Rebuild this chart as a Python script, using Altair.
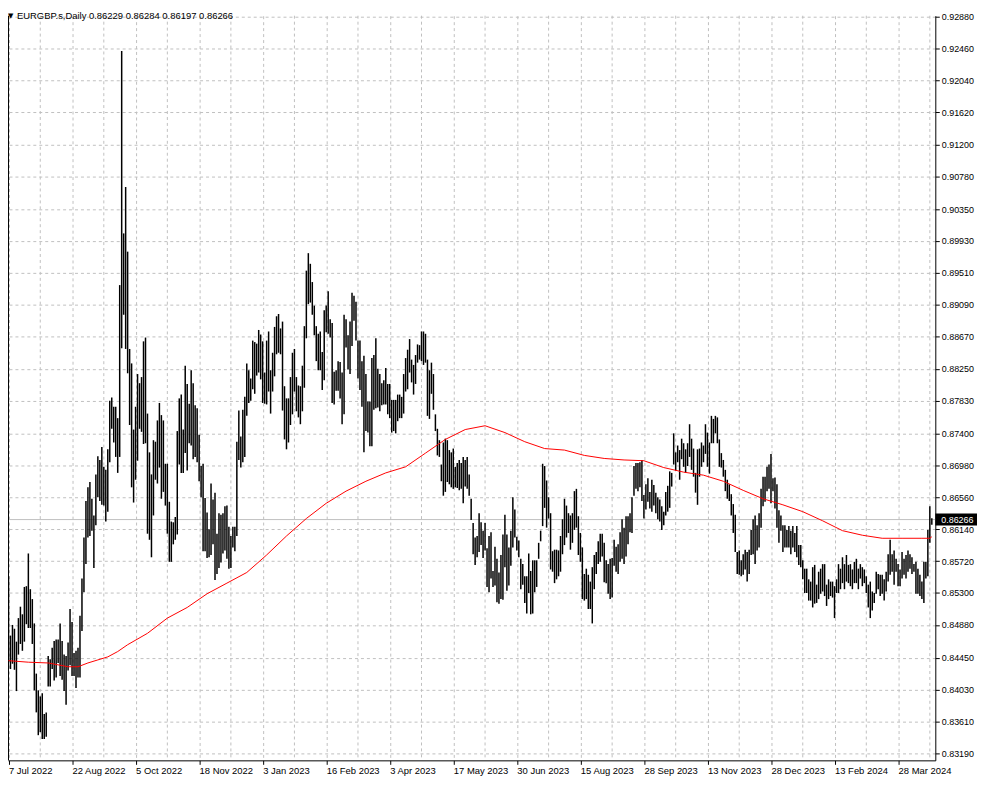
import altair as alt
import pandas as pd

# ---------------- data ----------------
HIGH = [
0.8552, 0.8474, 0.8488, 0.8483, 0.8466, 0.8497, 0.8512, 0.8502, 0.8538, 0.8539,
0.8582, 0.8535, 0.8522, 0.8490, 0.8424, 0.8402, 0.8394, 0.8398, 0.8371, 0.8373,
0.8447, 0.8443, 0.8458, 0.8467, 0.8469, 0.8469, 0.8490, 0.8467, 0.8449, 0.8447,
0.8465, 0.8509, 0.8492, 0.8451, 0.8454, 0.8458, 0.8500, 0.8549, 0.8603, 0.8651,
0.8669, 0.8676, 0.8654, 0.8632, 0.8686, 0.8710, 0.8705, 0.8722, 0.8696, 0.8692,
0.8719, 0.8783, 0.8787, 0.8775, 0.8775, 0.8760, 0.8935, 0.9243, 0.9003, 0.9064,
0.8979, 0.8851, 0.8832, 0.8745, 0.8775, 0.8818, 0.8806, 0.8814, 0.8861, 0.8866,
0.8766, 0.8715, 0.8686, 0.8731, 0.8729, 0.8757, 0.8780, 0.8764, 0.8757, 0.8700,
0.8700, 0.8650, 0.8624, 0.8623, 0.8630, 0.8743, 0.8786, 0.8791, 0.8745, 0.8829,
0.8805, 0.8779, 0.8823, 0.8806, 0.8777, 0.8773, 0.8738, 0.8697, 0.8700, 0.8655,
0.8636, 0.8614, 0.8674, 0.8653, 0.8662, 0.8608, 0.8635, 0.8633, 0.8635, 0.8644,
0.8645, 0.8617, 0.8605, 0.8617, 0.8617, 0.8729, 0.8770, 0.8736, 0.8771, 0.8788,
0.8832, 0.8823, 0.8812, 0.8862, 0.8860, 0.8858, 0.8876, 0.8870, 0.8861, 0.8820,
0.8862, 0.8874, 0.8823, 0.8846, 0.8880, 0.8894, 0.8897, 0.8878, 0.8887, 0.8802,
0.8786, 0.8786, 0.8814, 0.8846, 0.8851, 0.8814, 0.8803, 0.8802, 0.8829, 0.8881,
0.8954, 0.8977, 0.8963, 0.8939, 0.8908, 0.8881, 0.8871, 0.8874, 0.8847, 0.8902,
0.8908, 0.8927, 0.8890, 0.8885, 0.8821, 0.8823, 0.8835, 0.8834, 0.8820, 0.8896,
0.8890, 0.8869, 0.8887, 0.8925, 0.8921, 0.8913, 0.8862, 0.8862, 0.8835, 0.8842,
0.8818, 0.8782, 0.8782, 0.8839, 0.8843, 0.8865, 0.8825, 0.8818, 0.8806, 0.8810,
0.8826, 0.8805, 0.8805, 0.8784, 0.8784, 0.8784, 0.8791, 0.8791, 0.8788, 0.8818,
0.8839, 0.8850, 0.8864, 0.8837, 0.8830, 0.8843, 0.8857, 0.8856, 0.8874, 0.8874,
0.8871, 0.8837, 0.8823, 0.8833, 0.8818, 0.8765, 0.8746, 0.8731, 0.8699, 0.8728,
0.8733, 0.8731, 0.8718, 0.8715, 0.8720, 0.8696, 0.8701, 0.8705, 0.8701, 0.8709,
0.8705, 0.8709, 0.8686, 0.8654, 0.8622, 0.8603, 0.8605, 0.8635, 0.8623, 0.8612,
0.8622, 0.8589, 0.8605, 0.8610, 0.8559, 0.8591, 0.8575, 0.8557, 0.8580, 0.8607,
0.8633, 0.8607, 0.8590, 0.8612, 0.8656, 0.8640, 0.8604, 0.8599, 0.8575, 0.8568,
0.8552, 0.8552, 0.8582, 0.8559, 0.8573, 0.8573, 0.8573, 0.8596, 0.8612, 0.8700,
0.8697, 0.8678, 0.8656, 0.8635, 0.8585, 0.8587, 0.8587, 0.8586, 0.8605, 0.8627,
0.8654, 0.8645, 0.8635, 0.8632, 0.8635, 0.8664, 0.8667, 0.8631, 0.8609, 0.8590,
0.8555, 0.8562, 0.8554, 0.8545, 0.8564, 0.8580, 0.8584, 0.8598, 0.8608, 0.8608,
0.8596, 0.8573, 0.8568, 0.8575, 0.8576, 0.8600, 0.8591, 0.8594, 0.8610, 0.8627,
0.8616, 0.8631, 0.8631, 0.8635, 0.8656, 0.8697, 0.8701, 0.8701, 0.8702, 0.8705,
0.8659, 0.8673, 0.8681, 0.8663, 0.8679, 0.8672, 0.8662, 0.8656, 0.8653, 0.8644,
0.8637, 0.8663, 0.8671, 0.8690, 0.8688, 0.8740, 0.8715, 0.8724, 0.8718, 0.8733,
0.8727, 0.8719, 0.8727, 0.8752, 0.8733, 0.8720, 0.8688, 0.8719, 0.8720, 0.8728,
0.8724, 0.8752, 0.8741, 0.8728, 0.8763, 0.8759, 0.8763, 0.8761, 0.8732, 0.8714,
0.8705, 0.8692, 0.8679, 0.8673, 0.8660, 0.8647, 0.8633, 0.8584, 0.8586, 0.8573,
0.8581, 0.8587, 0.8584, 0.8587, 0.8613, 0.8627, 0.8632, 0.8619, 0.8635, 0.8667,
0.8683, 0.8683, 0.8696, 0.8699, 0.8713, 0.8681, 0.8682, 0.8673, 0.8639, 0.8632,
0.8619, 0.8619, 0.8613, 0.8618, 0.8612, 0.8618, 0.8609, 0.8618, 0.8593, 0.8593,
0.8573, 0.8562, 0.8562, 0.8548, 0.8545, 0.8564, 0.8567, 0.8541, 0.8558, 0.8562,
0.8568, 0.8568, 0.8541, 0.8548, 0.8545, 0.8545, 0.8539, 0.8548, 0.8568, 0.8562,
0.8577, 0.8568, 0.8580, 0.8567, 0.8568, 0.8561, 0.8571, 0.8575, 0.8562, 0.8568,
0.8564, 0.8561, 0.8552, 0.8541, 0.8545, 0.8532, 0.8530, 0.8558, 0.8555, 0.8554,
0.8554, 0.8548, 0.8558, 0.8581, 0.8600, 0.8581, 0.8586, 0.8575, 0.8568, 0.8561,
0.8584, 0.8575, 0.8580, 0.8586, 0.8581, 0.8577, 0.8568, 0.8571, 0.8562, 0.8554,
0.8545, 0.8571, 0.8571, 0.8613, 0.8644, 0.86284,
]

LOW = [
0.8440, 0.8430, 0.8437, 0.8429, 0.8401, 0.8449, 0.8463, 0.8454, 0.8466, 0.8489,
0.8484, 0.8484, 0.8463, 0.8402, 0.8373, 0.8343, 0.8347, 0.8338, 0.8338, 0.8341,
0.8407, 0.8407, 0.8430, 0.8415, 0.8419, 0.8438, 0.8421, 0.8416, 0.8401, 0.8383,
0.8428, 0.8435, 0.8421, 0.8421, 0.8405, 0.8419, 0.8419, 0.8480, 0.8531, 0.8568,
0.8603, 0.8605, 0.8612, 0.8563, 0.8619, 0.8656, 0.8651, 0.8646, 0.8645, 0.8624,
0.8637, 0.8702, 0.8746, 0.8728, 0.8709, 0.8688, 0.8709, 0.8852, 0.8896, 0.8851,
0.8819, 0.8751, 0.8669, 0.8649, 0.8679, 0.8704, 0.8746, 0.8742, 0.8726, 0.8727,
0.8608, 0.8600, 0.8577, 0.8632, 0.8679, 0.8674, 0.8695, 0.8654, 0.8663, 0.8645,
0.8608, 0.8571, 0.8571, 0.8594, 0.8600, 0.8607, 0.8699, 0.8688, 0.8688, 0.8714,
0.8691, 0.8727, 0.8724, 0.8706, 0.8709, 0.8702, 0.8677, 0.8656, 0.8585, 0.8585,
0.8576, 0.8577, 0.8580, 0.8594, 0.8547, 0.8555, 0.8563, 0.8570, 0.8582, 0.8586,
0.8575, 0.8562, 0.8563, 0.8590, 0.8585, 0.8605, 0.8705, 0.8695, 0.8702, 0.8709,
0.8763, 0.8780, 0.8783, 0.8798, 0.8792, 0.8816, 0.8820, 0.8811, 0.8780, 0.8779,
0.8778, 0.8795, 0.8766, 0.8795, 0.8815, 0.8844, 0.8846, 0.8844, 0.8770, 0.8732,
0.8719, 0.8728, 0.8751, 0.8765, 0.8795, 0.8769, 0.8761, 0.8752, 0.8769, 0.8800,
0.8865, 0.8910, 0.8912, 0.8896, 0.8869, 0.8835, 0.8823, 0.8823, 0.8797, 0.8810,
0.8873, 0.8871, 0.8866, 0.8780, 0.8778, 0.8796, 0.8796, 0.8786, 0.8752, 0.8765,
0.8853, 0.8824, 0.8818, 0.8855, 0.8888, 0.8862, 0.8812, 0.8797, 0.8775, 0.8715,
0.8743, 0.8741, 0.8723, 0.8723, 0.8771, 0.8773, 0.8774, 0.8769, 0.8777, 0.8778,
0.8778, 0.8765, 0.8760, 0.8741, 0.8743, 0.8740, 0.8756, 0.8760, 0.8760, 0.8766,
0.8795, 0.8798, 0.8820, 0.8807, 0.8791, 0.8805, 0.8833, 0.8837, 0.8835, 0.8830,
0.8833, 0.8763, 0.8759, 0.8792, 0.8771, 0.8743, 0.8711, 0.8709, 0.8677, 0.8658,
0.8663, 0.8676, 0.8673, 0.8669, 0.8667, 0.8669, 0.8668, 0.8665, 0.8667, 0.8648,
0.8670, 0.8667, 0.8658, 0.8626, 0.8581, 0.8567, 0.8577, 0.8584, 0.8593, 0.8576,
0.8586, 0.8538, 0.8531, 0.8549, 0.8538, 0.8540, 0.8518, 0.8516, 0.8522, 0.8521,
0.8564, 0.8533, 0.8540, 0.8566, 0.8590, 0.8603, 0.8586, 0.8577, 0.8535, 0.8541,
0.8517, 0.8503, 0.8530, 0.8502, 0.8503, 0.8531, 0.8538, 0.8575, 0.8598, 0.8618,
0.8642, 0.8616, 0.8628, 0.8561, 0.8558, 0.8543, 0.8548, 0.8552, 0.8558, 0.8581,
0.8593, 0.8603, 0.8609, 0.8587, 0.8596, 0.8613, 0.8616, 0.8580, 0.8571, 0.8522,
0.8520, 0.8522, 0.8509, 0.8509, 0.8490, 0.8535, 0.8555, 0.8568, 0.8571, 0.8578,
0.8544, 0.8543, 0.8529, 0.8522, 0.8524, 0.8566, 0.8558, 0.8555, 0.8571, 0.8575,
0.8568, 0.8578, 0.8594, 0.8610, 0.8609, 0.8658, 0.8667, 0.8664, 0.8669, 0.8651,
0.8628, 0.8640, 0.8650, 0.8641, 0.8637, 0.8645, 0.8635, 0.8627, 0.8624, 0.8613,
0.8619, 0.8632, 0.8637, 0.8642, 0.8670, 0.8699, 0.8691, 0.8702, 0.8679, 0.8706,
0.8696, 0.8688, 0.8697, 0.8709, 0.8692, 0.8683, 0.8662, 0.8646, 0.8683, 0.8696,
0.8702, 0.8713, 0.8696, 0.8687, 0.8727, 0.8727, 0.8740, 0.8727, 0.8696, 0.8695,
0.8683, 0.8664, 0.8654, 0.8651, 0.8632, 0.8609, 0.8584, 0.8555, 0.8554, 0.8552,
0.8554, 0.8561, 0.8545, 0.8555, 0.8580, 0.8581, 0.8568, 0.8586, 0.8590, 0.8616,
0.8644, 0.8650, 0.8664, 0.8667, 0.8648, 0.8664, 0.8641, 0.8616, 0.8596, 0.8612,
0.8584, 0.8590, 0.8590, 0.8590, 0.8581, 0.8590, 0.8584, 0.8577, 0.8567, 0.8564,
0.8548, 0.8530, 0.8530, 0.8520, 0.8520, 0.8511, 0.8516, 0.8517, 0.8522, 0.8529,
0.8532, 0.8526, 0.8513, 0.8522, 0.8526, 0.8524, 0.8497, 0.8530, 0.8530, 0.8535,
0.8543, 0.8535, 0.8545, 0.8543, 0.8539, 0.8535, 0.8543, 0.8543, 0.8535, 0.8549,
0.8539, 0.8543, 0.8530, 0.8511, 0.8497, 0.8507, 0.8517, 0.8529, 0.8535, 0.8526,
0.8529, 0.8520, 0.8532, 0.8545, 0.8554, 0.8558, 0.8541, 0.8558, 0.8539, 0.8539,
0.8549, 0.8554, 0.8549, 0.8558, 0.8562, 0.8555, 0.8558, 0.8529, 0.8529, 0.8526,
0.8522, 0.8517, 0.8549, 0.8552, 0.8596, 0.86197,
]

MA_IDX = [0, 10, 20, 30, 35, 40, 45, 50, 55, 60, 70, 80, 90, 100, 110, 120, 130,
          140, 150, 160, 170, 180, 190, 200, 210, 220, 230, 240, 250, 260, 270,
          280, 290, 300, 310, 320, 330, 340, 350, 360, 370, 380, 390, 400, 410,
          420, 430, 440, 450, 460, 464, 465]
MA_VAL = [0.8441, 0.8439, 0.8438, 0.8433, 0.8433, 0.8438, 0.8442, 0.8446, 0.8453,
          0.8462, 0.8477, 0.8497, 0.8511, 0.8529, 0.8543, 0.8557, 0.8580, 0.8605,
          0.8628, 0.8648, 0.8664, 0.8677, 0.8688, 0.8696, 0.8714, 0.8732, 0.8745,
          0.8750, 0.8741, 0.8729, 0.8720, 0.8718, 0.8711, 0.8707, 0.8705, 0.8704,
          0.8695, 0.8689, 0.8685, 0.8677, 0.8665, 0.8654, 0.8646, 0.8637, 0.8625,
          0.8612, 0.8606, 0.8602, 0.8602, 0.8602, 0.8602, 0.8604]

Y_TICKS = [0.92880, 0.92460, 0.92040, 0.91620, 0.91200, 0.90780, 0.90350, 0.89930,
           0.89510, 0.89090, 0.88670, 0.88250, 0.87830, 0.87400, 0.86980, 0.86560,
           0.86140, 0.85720, 0.85300, 0.84880, 0.84450, 0.84030, 0.83610, 0.83190]
DATE_LABELS = ["7 Jul 2022", "22 Aug 2022", "5 Oct 2022", "18 Nov 2022", "3 Jan 2023",
               "16 Feb 2023", "3 Apr 2023", "17 May 2023", "30 Jun 2023", "15 Aug 2023",
               "28 Sep 2023", "13 Nov 2023", "28 Dec 2023", "13 Feb 2024", "28 Mar 2024"]
LABEL_EVERY = 32
GRID_EVERY = 16
LAST_PRICE = 0.86266
HEADER = "EURGBP.s,Daily  0.86229 0.86284 0.86197 0.86266"

# ---------------- layout ----------------
W, H = 934, 750
FONT = "Liberation Sans"
GRID = "#c0c0c0"

n = len(HIGH)
bars = pd.DataFrame({"idx": list(range(n)), "high": HIGH, "low": LOW})
ma = pd.DataFrame({"idx": MA_IDX, "ma": MA_VAL})
last = pd.DataFrame({"p": [LAST_PRICE], "label": [f"{LAST_PRICE:.5f}"]})
vgrid = pd.DataFrame({"idx": [i for i in range(0, n, GRID_EVERY) if i % LABEL_EVERY]})

xs = alt.Scale(domain=[-0.25, 466.75], nice=False, zero=False)
ys = alt.Scale(domain=[0.83099, 0.92893], nice=False, zero=False)

labels_js = "[" + ",".join("'" + d + "'" for d in DATE_LABELS) + "]"
x_axis = alt.Axis(
    values=list(range(0, n, LABEL_EVERY)),
    labelExpr=f"{labels_js}[round(datum.value / {LABEL_EVERY})]",
    grid=True, gridColor=GRID, gridDash=[3, 3], gridWidth=1,
    domainColor="black", domainWidth=1, tickColor="black", tickSize=4,
    labelAlign="left", labelBaseline="top", labelPadding=1,
    labelFont=FONT, labelFontSize=9.5, labelColor="black",
    labelOverlap=False, labelFlush=False, title=None, translate=0.5,
)
y_axis = alt.Axis(
    orient="right", values=Y_TICKS, format=".5f",
    grid=True, gridColor=GRID, gridDash=[3, 3], gridWidth=1,
    domainColor="black", domainWidth=1, tickColor="black", tickSize=4,
    labelFont=FONT, labelFontSize=9, labelColor="black", labelPadding=2,
    labelOverlap=False, labelFlush=False, title=None, translate=0.5,
)

X = lambda f: alt.X(f, scale=xs, axis=x_axis)
Y = lambda f: alt.Y(f, scale=ys, axis=y_axis)

grid16 = alt.Chart(vgrid).mark_rule(color=GRID, strokeWidth=1, strokeDash=[3, 3]).encode(
    x=X("idx:Q")
)

price_line = alt.Chart(last).mark_rule(color=GRID, strokeWidth=1).encode(y=Y("p:Q"))

left_border = alt.Chart(last).mark_rule(color="black", strokeWidth=1).encode(
    x=alt.value(0.5), y=alt.value(0), y2=alt.value(H)
)

bar_layer = alt.Chart(bars).mark_rule(color="black", strokeWidth=1.5).encode(
    x=X("idx:Q"), y=Y("high:Q"), y2="low:Q"
)

ma_layer = alt.Chart(ma).mark_line(color="#ff0000", strokeWidth=1).encode(
    x=X("idx:Q"), y=Y("ma:Q")
)

tag_box = alt.Chart(last).mark_rule(color="black", strokeWidth=12).encode(
    x=alt.value(W), x2=alt.value(W + 42), y=Y("p:Q")
)
tag_text = alt.Chart(last).mark_text(
    color="white", align="left", baseline="middle", font=FONT, fontSize=9
).encode(x=alt.value(W + 6), y=Y("p:Q"), text="label:N")

hdr_df = pd.DataFrame({"t": [HEADER]})
header_tri = alt.Chart(hdr_df).mark_text(
    text="▼", align="left", baseline="middle", font="DejaVu Sans", fontSize=7, color="black"
).encode(x=alt.value(0), y=alt.value(0))
header_txt = alt.Chart(hdr_df).mark_text(
    align="left", baseline="middle", font=FONT, fontSize=9.5, color="black"
).encode(x=alt.value(9), y=alt.value(0), text="t:N")

chart = alt.layer(
    grid16, price_line, left_border, bar_layer, ma_layer, tag_box, tag_text,
    header_tri, header_txt
).properties(
    width=W, height=H,
    autosize=alt.AutoSizeParams(type="none"),
    padding={"left": 0, "top": 5, "right": 42, "bottom": 16},
    background="white",
).configure_view(strokeWidth=0)

chart.save("out.html", embed_options={"renderer": "svg", "actions": False})
